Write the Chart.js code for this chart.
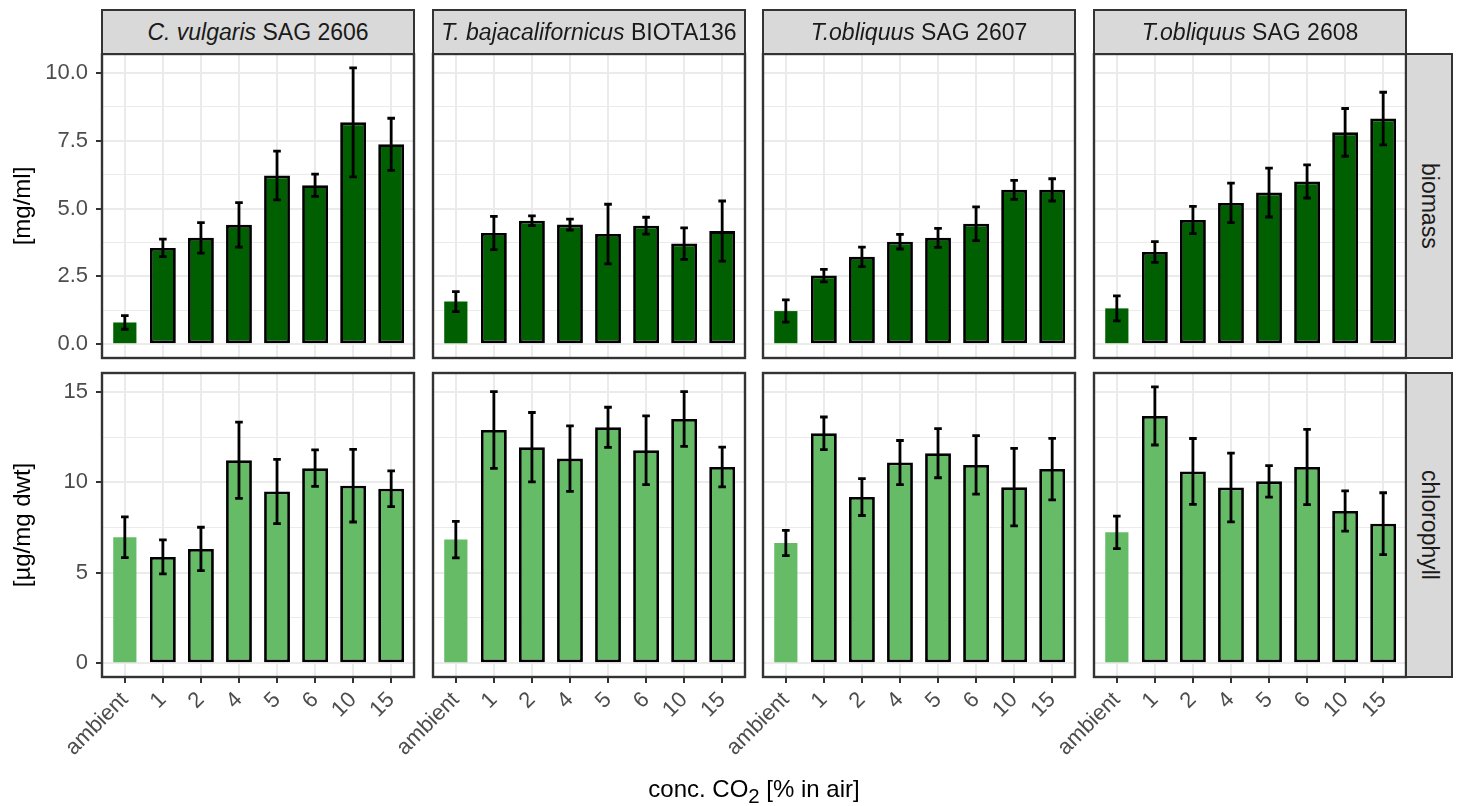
<!DOCTYPE html>
<html>
<head>
<meta charset="utf-8">
<script src="https://cdn.jsdelivr.net/npm/chart.js@4.4.1/dist/chart.umd.min.js"></script>
<style>
  body { margin: 0; background: #fff; }
  #wrap { position: relative; width: 1458px; height: 806px; font-family: "Liberation Sans", Arial, sans-serif; overflow: hidden; }
  #wrap canvas { position: absolute; left: 0; top: 0; }
  .strip { position: absolute; background: #d9d9d9; border: 2px solid #333; box-sizing: border-box;
           color: #1a1a1a; font-size: 23px; display: flex; align-items: center; justify-content: center; white-space: nowrap; }
  .strip.row span { writing-mode: vertical-rl; }
  .title { position: absolute; color: #000; font-size: 24px; line-height: 28px; white-space: nowrap; text-align: center; }
</style>
</head>
<body>
<div id="wrap"></div>
<script>
// CO2 levels on the x axis
const doses = ['ambient', '1', '2', '4', '5', '6', '10', '15'];

// facet labels
const species = ['C. vulgaris', 'T. bajacalifornicus', 'T.obliquus', 'T.obliquus'];
const strainCodes = ['SAG 2606', 'BIOTA136', 'SAG 2607', 'SAG 2608'];
const rowLabels = ['biomass', 'chlorophyll'];

// biomass [mg/ml], mean and sd
const biomassCV   = [0.80, 3.55, 3.92, 4.40, 6.22, 5.86, 8.18, 7.37];
const biomassCVsd = [0.25, 0.32, 0.56, 0.82, 0.90, 0.41, 2.01, 0.96];
const biomassTB   = [1.57, 4.10, 4.55, 4.41, 4.06, 4.37, 3.71, 4.17];
const biomassTBsd = [0.37, 0.61, 0.18, 0.20, 1.10, 0.31, 0.58, 1.11];
const biomass07   = [1.22, 2.53, 3.22, 3.78, 3.92, 4.44, 5.69, 5.69];
const biomass07sd = [0.41, 0.23, 0.36, 0.27, 0.35, 0.62, 0.35, 0.41];
const biomass08   = [1.32, 3.40, 4.58, 5.21, 5.59, 6.00, 7.81, 8.32];
const biomass08sd = [0.46, 0.38, 0.50, 0.73, 0.90, 0.61, 0.88, 0.97];

// chlorophyll [µg/mg dwt], mean and sd
const chlCV   = [6.97, 5.88, 6.32, 11.23, 9.50, 10.79, 9.82, 9.65];
const chlCVsd = [1.13, 0.94, 1.20, 2.11, 1.78, 1.01, 2.01, 0.99];
const chlTB   = [6.84, 12.90, 11.95, 11.32, 13.05, 11.78, 13.51, 10.85];
const chlTBsd = [1.01, 2.12, 1.92, 1.81, 1.11, 1.90, 1.51, 1.10];
const chl07   = [6.65, 12.72, 9.19, 11.10, 11.62, 10.97, 9.74, 10.74];
const chl07sd = [0.70, 0.90, 1.02, 1.22, 1.36, 1.62, 2.14, 1.70];
const chl08   = [7.24, 13.68, 10.61, 9.72, 10.06, 10.85, 8.42, 7.72];
const chl08sd = [0.90, 1.61, 1.82, 1.90, 0.87, 2.08, 1.11, 1.71];

// y ticks per row
const biomassTicks = [0, 2.5, 5, 7.5, 10];
const biomassTickLabels = ['0.0', '2.5', '5.0', '7.5', '10.0'];
const chlTicks = [0, 5, 10, 15];
const chlTickLabels = ['0', '5', '10', '15'];

const rows = [
  { means: [biomassCV, biomassTB, biomass07, biomass08], sds: [biomassCVsd, biomassTBsd, biomass07sd, biomass08sd],
    ticks: biomassTicks, tickLabels: biomassTickLabels, color: '#005f00', title: '[mg/ml]' },
  { means: [chlCV, chlTB, chl07, chl08], sds: [chlCVsd, chlTBsd, chl07sd, chl08sd],
    ticks: chlTicks, tickLabels: chlTickLabels, color: '#66bb66', title: '[µg/mg dwt]' }
];

// layout of the panel grid (px)
const W = 1458, H = 806;
const colLeft = [102, 433, 763, 1094];
const panelW = 312;
const rowTop = [54, 373];
const panelH = 304;
const font = '"Liberation Sans", Arial, sans-serif';
const wrap = document.getElementById('wrap');

function addDiv(cls, style, html) {
  const d = document.createElement('div');
  d.className = cls;
  Object.assign(d.style, style);
  d.innerHTML = html;
  wrap.appendChild(d);
  return d;
}

function panelPlugin(mean, sd) {
  return {
    id: 'errorBars',
    afterDatasetsDraw(chart) {
      const { ctx, scales: { x, y } } = chart;
      const half = x.getPixelForValue(1.1) - x.getPixelForValue(1);
      ctx.save();
      ctx.strokeStyle = '#000';
      ctx.lineWidth = 2.8;
      mean.forEach((m, i) => {
        const px = x.getPixelForValue(i + 1);
        const yt = y.getPixelForValue(m + sd[i]);
        const yb = y.getPixelForValue(m - sd[i]);
        ctx.beginPath();
        ctx.moveTo(px, yt); ctx.lineTo(px, yb);
        ctx.moveTo(px - half, yt); ctx.lineTo(px + half, yt);
        ctx.moveTo(px - half, yb); ctx.lineTo(px + half, yb);
        ctx.stroke();
      });
      ctx.restore();
    },
    afterDraw(chart) {
      const a = chart.chartArea;
      const ctx = chart.ctx;
      ctx.save();
      ctx.strokeStyle = '#333';
      ctx.lineWidth = 2.4;
      ctx.strokeRect(a.left, a.top, a.right - a.left, a.bottom - a.top);
      ctx.restore();
    }
  };
}

function makePanel(r, c) {
  const row = rows[r];
  const mean = row.means[c];
  const sd = row.sds[c];
  // ggplot-style 5% expansion from the data range of the row
  const top = Math.max(...row.means.flatMap((m, k) => m.map((v, i) => v + row.sds[k][i])));
  const yMin = -0.05 * top, yMax = top * 1.05;
  const minor = row.ticks.slice(1).map((v, i) => (v + row.ticks[i]) / 2);
  const allTicks = row.ticks.concat(minor).sort((a, b) => a - b);
  const isMajor = v => row.ticks.includes(v);

  const canvas = document.createElement('canvas');
  canvas.width = W; canvas.height = H;
  wrap.appendChild(canvas);

  const zeroPad = s => { s.paddingTop = 0; s.paddingBottom = 0; s.paddingLeft = 0; s.paddingRight = 0; };

  new Chart(canvas, {
    type: 'bar',
    data: {
      datasets: [
        {
          data: [{ x: 1, y: mean[0] }],
          backgroundColor: row.color,
          borderWidth: 0,
          barPercentage: 0.61,
          categoryPercentage: 1,
          grouped: false
        },
        {
          data: mean.slice(1).map((v, i) => ({ x: i + 2, y: v })),
          backgroundColor: row.color,
          borderColor: '#000',
          borderWidth: 2.8,
          borderSkipped: false,
          barPercentage: 0.68,
          categoryPercentage: 1,
          grouped: false
        }
      ]
    },
    options: {
      responsive: false,
      animation: false,
      events: [],
      layout: {
        padding: {
          left: c === 0 ? 0 : colLeft[c],
          right: W - colLeft[c] - panelW,
          top: rowTop[r],
          bottom: r === 1 ? 0 : H - rowTop[r] - panelH
        }
      },
      plugins: { legend: { display: false }, tooltip: { enabled: false } },
      scales: {
        x: {
          type: 'linear', min: 0.4, max: 8.6, offset: false,
          afterBuildTicks: s => { s.ticks = doses.map((d, i) => ({ value: i + 1 })); },
          afterFit: s => { s.height = r === 1 ? H - rowTop[r] - panelH : 0; zeroPad(s); },
          ticks: {
            display: r === 1, autoSkip: false, minRotation: 45, maxRotation: 45, padding: 4,
            color: '#4d4d4d', font: { family: font, size: 22 },
            callback: (v, i) => doses[i]
          },
          grid: { offset: false, color: '#ebebeb', lineWidth: 2, drawTicks: r === 1, tickLength: 6, tickWidth: 2, tickColor: '#333' },
          border: { display: false }
        },
        y: {
          min: yMin, max: yMax,
          afterBuildTicks: s => { s.ticks = allTicks.map(v => ({ value: v })); },
          afterFit: s => { s.width = c === 0 ? colLeft[0] : 0; zeroPad(s); },
          ticks: {
            display: c === 0, autoSkip: false, padding: 8,
            color: '#4d4d4d', font: { family: font, size: 22 },
            callback: v => isMajor(v) ? row.tickLabels[row.ticks.indexOf(v)] : ''
          },
          grid: {
            color: '#ebebeb',
            lineWidth: ctx => (ctx.tick && isMajor(ctx.tick.value)) ? 2 : 1,
            drawTicks: c === 0, tickLength: 6, tickWidth: 2,
            tickColor: ctx => (ctx.tick && isMajor(ctx.tick.value)) ? '#333' : 'rgba(0,0,0,0)'
          },
          border: { display: false }
        }
      }
    },
    plugins: [panelPlugin(mean, sd)]
  });
}

for (let r = 0; r < 2; r++) {
  for (let c = 0; c < 4; c++) makePanel(r, c);
}

// column strips
species.forEach((sp, c) => {
  addDiv('strip', { left: (colLeft[c] - 1) + 'px', top: '9px', width: (panelW + 2) + 'px', height: '46px' },
    '<i>' + sp + '</i>&nbsp;' + strainCodes[c]);
});
// row strips
rowLabels.forEach((lab, r) => {
  addDiv('strip row', { left: (colLeft[3] + panelW - 1) + 'px', top: (rowTop[r] - 1) + 'px', width: '48px', height: (panelH + 2) + 'px' },
    '<span>' + lab + '</span>');
});
// y axis titles
rows.forEach((row, r) => {
  const cy = rowTop[r] + panelH / 2;
  addDiv('title', { left: (22 - 150) + 'px', top: (cy - 14) + 'px', width: '300px', transform: 'rotate(-90deg)' }, row.title);
});
// x axis title
addDiv('title', { left: '454px', top: '775px', width: '600px' },
  'conc. CO<span style="font-size:0.85em;position:relative;top:0.3em">2</span> [% in air]');
</script>
</body>
</html>
